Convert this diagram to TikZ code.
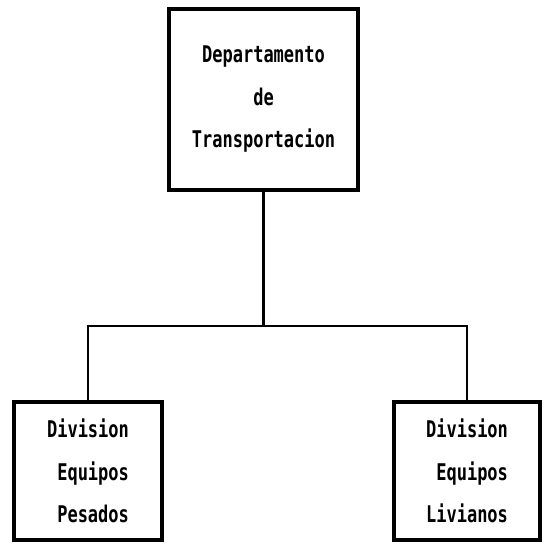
\documentclass[tikz,border=0pt]{standalone}
\usepackage{fontspec}
\usepackage{tikz}
\usetikzlibrary{calc,positioning}

% narrow bold mono, like an old printer
\newfontfamily\dotfont[FakeStretch=0.74]{DejaVu Sans Mono}

\begin{document}
\begin{tikzpicture}[x=1pt,y=-1pt,
          every node/.style={font=\dotfont\bfseries\fontsize{23}{42.5}\selectfont},
          unit/.style={draw,line width=4pt,inner sep=0pt,align=right},
          link/.style={line width=2.2pt}]
        \useasboundingbox (0,0) rectangle (544,545);
        \node[unit,minimum width=189pt,minimum height=181pt,align=center] (dept) at (263.5,99.5)
              {Departamento\\de\\Transportacion};
        \node[unit,minimum width=148pt,minimum height=138pt] (pesados) at (88,471)
              {Division\\Equipos\\Pesados};
        \node[unit,minimum width=146pt,minimum height=138pt] (livianos) at (467,471)
              {Division\\Equipos\\Livianos};
        \coordinate (bus) at (262,326);
        \draw[link] (dept.south) -- (dept.south |- bus);
        \draw[link] (pesados.north) |- (bus) -| (livianos.north);
      \end{tikzpicture}
\end{document}
